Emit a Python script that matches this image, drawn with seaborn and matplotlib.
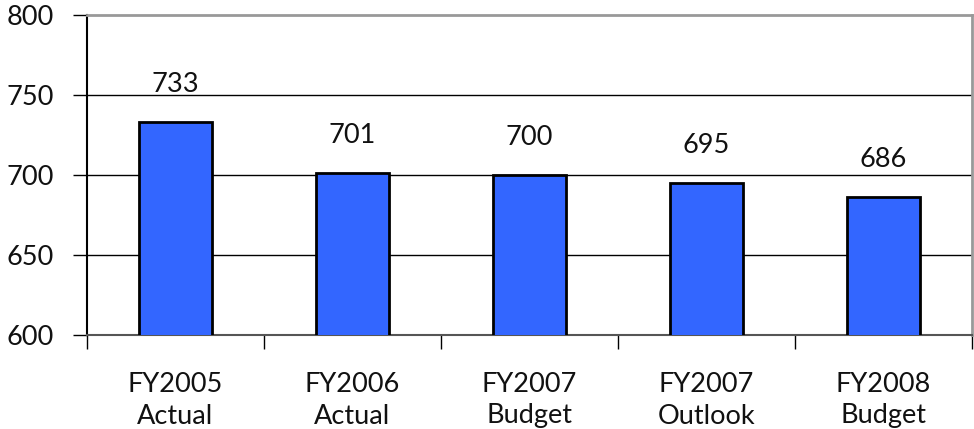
import matplotlib
matplotlib.use("Agg")
import matplotlib.pyplot as plt
from matplotlib.ticker import FixedLocator
import seaborn as sns
import pandas as pd

categories = ["FY2005\nActual", "FY2006\nActual", "FY2007\nBudget", "FY2007\nOutlook", "FY2008\nBudget"]
values = [733, 701, 700, 695, 686]
y_ticks = [600, 650, 700, 750, 800]

sns.set_theme(style="white")
plt.rcParams["font.family"] = ["Lato", "DejaVu Sans"]

df = pd.DataFrame({"category": categories, "value": values})

fig = plt.figure(figsize=(9.74, 4.29), dpi=100)
ax = fig.add_axes([87 / 974, 1 - 335 / 429, 885 / 974, 320 / 429])

sns.barplot(data=df, x="category", y="value", ax=ax, color="#3366FF",
            width=0.41, edgecolor="black", linewidth=2, saturation=1, zorder=3)

ax.set_ylim(600, 800)
ax.set_xlim(-0.5, len(categories) - 0.5)
ax.set_yticks(y_ticks)
ax.set_yticklabels([str(t) for t in y_ticks], fontsize=19.5, color="#111111")
for t in [650, 700, 750]:
    ax.axhline(t, color="black", linewidth=1, zorder=1)

ax.set_xlabel("")
ax.set_ylabel("")
ax.tick_params(axis="x", which="major", length=0, labelsize=19.5, pad=27, labelcolor="#111111")
ax.xaxis.set_minor_locator(FixedLocator([i - 0.5 for i in range(len(categories) + 1)]))
ax.tick_params(axis="x", which="minor", length=10, width=1, color="black", direction="out", bottom=True)
ax.tick_params(axis="y", length=10, width=1, color="black", direction="out", left=True, pad=14)
for lbl in ax.get_xticklabels():
    lbl.set_linespacing(1.3)

ax.spines["left"].set_color("black")
ax.spines["left"].set_linewidth(1.5)
ax.spines["bottom"].set_color("#555555")
ax.spines["bottom"].set_linewidth(1.5)
ax.spines["top"].set_color("#999999")
ax.spines["top"].set_linewidth(2)
ax.spines["right"].set_color("#999999")
ax.spines["right"].set_linewidth(2)

for i, v in enumerate(values):
    ax.annotate(str(v), (i, v), xytext=(0, 18), textcoords="offset points",
                ha="center", va="bottom", fontsize=19.5, color="#111111")

fig.savefig("out.png", dpi=100)
